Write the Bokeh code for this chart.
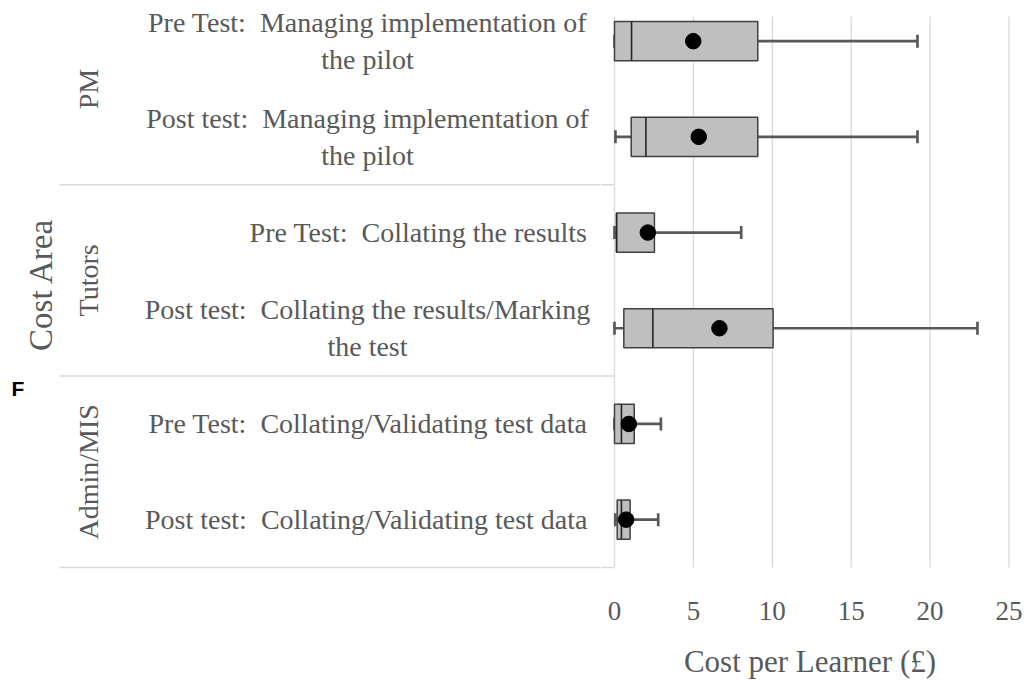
import math

from bokeh.plotting import figure
from bokeh.layouts import row
from bokeh.models import Range1d, FixedTicker, ColumnDataSource
from bokeh.core.properties import value
from bokeh.embed import file_html
from bokeh.resources import INLINE

# ---- data (cost per learner, £) -------------------------------------------
NB = "\u00a0"  # keeps the wide gap after the colon
categories = [
    f"Pre Test:{NB} Managing implementation of\nthe pilot",
    f"Post test:{NB} Managing implementation of\nthe pilot",
    f"Pre Test:{NB} Collating the results",
    f"Post test:{NB} Collating the results/Marking\nthe test",
    f"Pre Test:{NB} Collating/Validating test data",
    f"Post test:{NB} Collating/Validating test data",
]
groups = ["PM", "Tutors", "Admin/MIS"]
group_sizes = [2, 2, 2]

whisker_min = [0.0, 0.06, 0.0, 0.0, 0.0, 0.05]
q1 = [0.0, 1.06, 0.13, 0.59, 0.0, 0.17]
median = [1.08, 1.99, 0.13, 2.43, 0.44, 0.44]
q3 = [9.08, 9.08, 2.53, 10.05, 1.25, 0.99]
whisker_max = [19.2, 19.2, 8.03, 23.0, 2.94, 2.77]
mean = [4.99, 5.34, 2.11, 6.65, 0.91, 0.74]

x_ticks = [0, 5, 10, 15, 20, 25]
x_title = "Cost per Learner (£)"
y_title = "Cost Area"
panel_tag = "F"

# ---- layout constants -----------------------------------------------------
W, H = 1024, 681
LEFT_W = 600                 # width of the label panel
ZERO_PX = 614                # where x = 0 sits on the page
FRAME_R = 1019
FRAME_B = 569                # bottom of both frames (page px)
GRID_T, GRID_B = 16, 567     # vertical extent of the grid lines
ROW_PX = 95.7
PX_PER_X = 15.78

TEXT = "#595959"
GRID = "#d9d9d9"
SERIF = "Liberation Serif"

n = len(categories)
rows = [n - 1 - i for i in range(n)]          # top row first


def y_of_px(px):
    """page pixel row -> y value shared by both panels"""
    return -0.5 + (GRID_B - px) / ROW_PX


y_rng = (y_of_px(FRAME_B), y_of_px(0))

box_h = 0.41
cap_h = 0.068

src = ColumnDataSource(dict(
    y=rows, lo=whisker_min, q1=q1, med=median, q3=q3, hi=whisker_max, mean=mean,
    y0=[r - cap_h for r in rows], y1=[r + cap_h for r in rows],
    b0=[r - box_h / 2 for r in rows], b1=[r + box_h / 2 for r in rows],
))

# group bookkeeping
group_centres, separators = [], []
start = 0
for size in group_sizes:
    ys = rows[start:start + size]
    group_centres.append(sum(ys) / len(ys))
    separators.append(min(ys) - 0.5)
    start += size

# ---- box plot panel -------------------------------------------------------
x_start = -(ZERO_PX - LEFT_W) / PX_PER_X
x_end = (FRAME_R - ZERO_PX) / PX_PER_X

p = figure(
    width=W - LEFT_W, height=H, output_backend="svg", toolbar_location=None,
    x_range=Range1d(x_start, x_end), y_range=Range1d(*y_rng),
    min_border_left=0, min_border_right=W - FRAME_R,
    min_border_top=0, min_border_bottom=H - FRAME_B,
    y_axis_location=None,
)
p.outline_line_color = None
p.xgrid.visible = False
p.ygrid.visible = False

ticker = FixedTicker(ticks=x_ticks)
ax = p.xaxis[0]
ax.ticker = ticker
ax.axis_line_color = None
ax.major_tick_line_color = None
ax.minor_tick_line_color = None
ax.major_tick_out = 0
ax.major_tick_in = 0
ax.major_label_standoff = 32
ax.major_label_text_font = SERIF
ax.major_label_text_font_size = "27px"
ax.major_label_text_color = TEXT
ax.axis_label = x_title
ax.axis_label_text_font = SERIF
ax.axis_label_text_font_size = "31px"
ax.axis_label_text_font_style = "normal"
ax.axis_label_text_color = TEXT
ax.axis_label_standoff = 21

# vertical grid lines at the tick values
p.segment(x0=x_ticks, x1=x_ticks, y0=[y_of_px(GRID_B)] * len(x_ticks),
          y1=[y_of_px(GRID_T)] * len(x_ticks), line_color=GRID, line_width=1.3)

# group separators continuing up to x = 0
p.segment(x0=[x_start] * len(separators), x1=[0] * len(separators),
          y0=separators, y1=separators, line_color=GRID, line_width=1.5)

# whiskers
WH = "#595959"
p.segment(x0="q3", y0="y", x1="hi", y1="y", source=src, line_color=WH, line_width=2.7)
p.segment(x0="lo", y0="y", x1="q1", y1="y", source=src, line_color=WH, line_width=2.7)
p.segment(x0="hi", y0="y0", x1="hi", y1="y1", source=src, line_color=WH, line_width=2.7)
p.segment(x0="lo", y0="y0", x1="lo", y1="y1", source=src, line_color=WH, line_width=2.7)

# boxes + medians
p.hbar(y="y", left="q1", right="q3", height=box_h, source=src,
       fill_color="#bfbfbf", line_color="#404040", line_width=1.5)
p.segment(x0="med", y0="b0", x1="med", y1="b1", source=src,
          line_color="#262626", line_width=1.6)

# means
p.scatter(x="mean", y="y", source=src, size=15.5, marker="circle",
          fill_color="black", line_color="black")

# ---- label panel ----------------------------------------------------------
lp = figure(
    width=LEFT_W, height=H, output_backend="svg", toolbar_location=None,
    x_range=Range1d(0, LEFT_W), y_range=Range1d(*y_rng),
    min_border_left=0, min_border_right=0,
    min_border_top=0, min_border_bottom=H - FRAME_B,
    x_axis_location=None, y_axis_location=None,
)
lp.outline_line_color = None
lp.grid.visible = False

single = [c for c in categories if "\n" not in c]
single_y = [r for c, r in zip(categories, rows) if "\n" not in c]
double = [c for c in categories if "\n" in c]
double_y = [r for c, r in zip(categories, rows) if "\n" in c]

lp.text(x=[587] * len(single), y=single_y, text=single,
        text_align="right", text_baseline="middle",
        text_font=value(SERIF), text_font_size="28px", text_color=TEXT)
lp.text(x=[367] * len(double), y=double_y, text=double,
        text_align="center", text_baseline="middle", text_line_height=1.2,
        text_font=value(SERIF), text_font_size="28px", text_color=TEXT)

lp.text(x=[88] * len(groups), y=group_centres, text=groups, angle=math.pi / 2,
        text_align="center", text_baseline="middle",
        text_font=value(SERIF), text_font_size="28px", text_color=TEXT)

lp.segment(x0=[59] * len(separators), x1=[LEFT_W] * len(separators),
           y0=separators, y1=separators, line_color=GRID, line_width=1.5)

lp.text(x=[40], y=[y_of_px(284)], text=[y_title], angle=math.pi / 2,
        text_align="center", text_baseline="middle",
        text_font=value(SERIF), text_font_size="33px", text_color=TEXT)

lp.text(x=[11], y=[y_of_px(388)], text=[panel_tag],
        text_align="left", text_baseline="middle",
        text_font=value("Liberation Sans"), text_font_style="bold",
        text_font_size="21px", text_color="black")

layout = row(lp, p, spacing=0)
open("out.html", "w").write(file_html(layout, INLINE))
